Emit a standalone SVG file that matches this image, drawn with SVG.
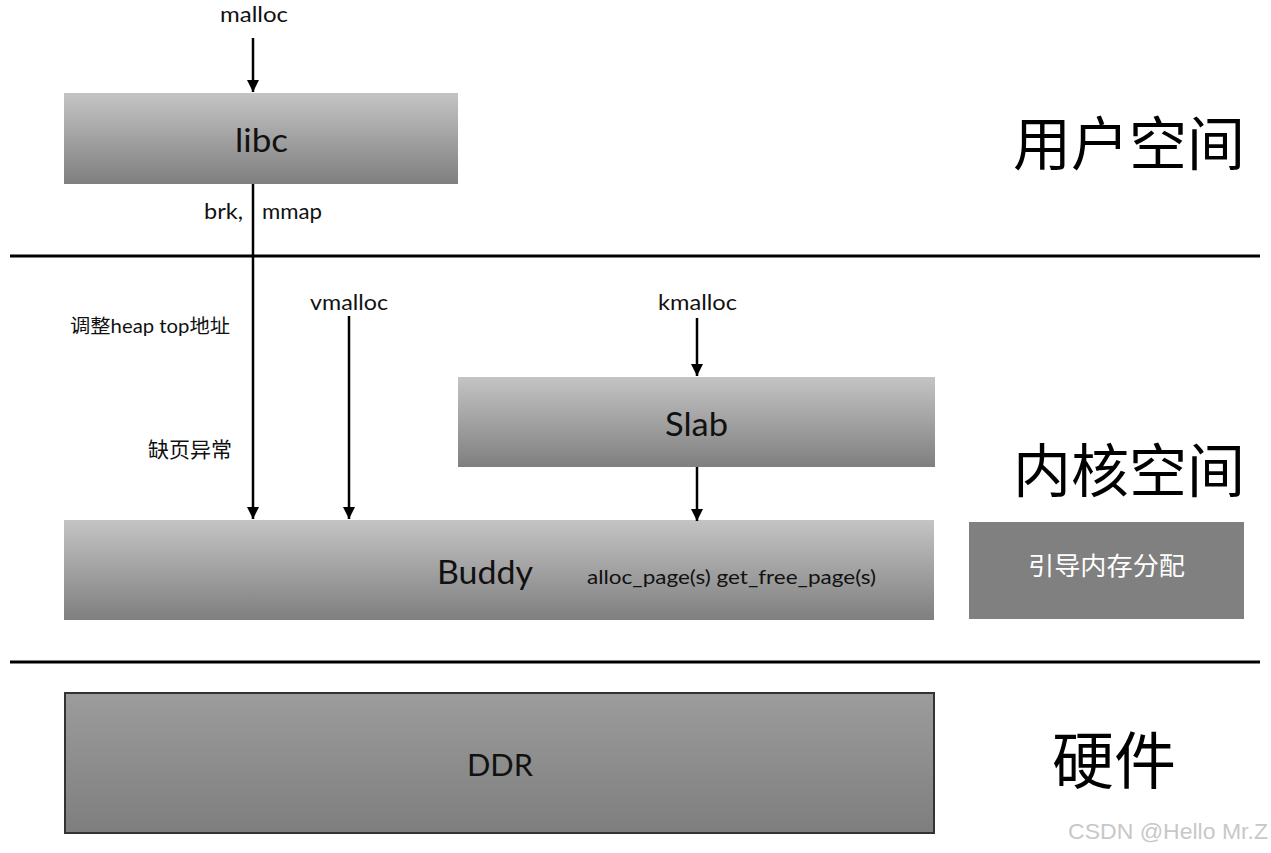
<svg xmlns="http://www.w3.org/2000/svg" width="1271" height="853" viewBox="0 0 1271 853">
<style>
.t{font-family:"Lato","Noto Sans CJK SC",sans-serif;fill:#111}
.cn{font-family:"Noto Sans CJK SC",sans-serif;fill:#111}
.box{stroke:none}
.conn{stroke:#000;stroke-width:2.5;fill:none}
.sep{stroke:#000;stroke-width:3}
</style>
<defs>
<linearGradient id="g1" x1="0" y1="0" x2="0" y2="1">
<stop offset="0" stop-color="#c4c4c4"/>
<stop offset="1" stop-color="#7f7f7f"/>
</linearGradient>
<linearGradient id="g2" x1="0" y1="0" x2="0" y2="1">
<stop offset="0" stop-color="#9c9c9c"/>
<stop offset="1" stop-color="#7e7e7e"/>
</linearGradient>
<marker id="ah" markerWidth="12" markerHeight="12" refX="10" refY="5" orient="auto" markerUnits="userSpaceOnUse" viewBox="0 0 10 10">
<path d="M0,0 L10,5 L0,10 z" fill="#000"/>
</marker>
</defs>
<rect width="1271" height="853" fill="#fff"/>
<g id="separators">
<line class="sep" x1="10" y1="256" x2="1260" y2="256"/>
<line class="sep" x1="10" y1="662" x2="1260" y2="662"/>
</g>
<g id="libc">
<rect class="box" x="64" y="93" width="394" height="91" fill="url(#g1)"/>
<text class="t" x="235" y="152" font-size="33" textLength="53" lengthAdjust="spacingAndGlyphs">libc</text>
</g>
<g id="slab">
<rect class="box" x="458" y="377" width="477" height="90" fill="url(#g1)"/>
<text class="t" x="665" y="436" font-size="33" textLength="63" lengthAdjust="spacingAndGlyphs">Slab</text>
</g>
<g id="buddy">
<rect class="box" x="64" y="520" width="870" height="100" fill="url(#g1)"/>
<text class="t" x="437" y="584" font-size="33" textLength="96" lengthAdjust="spacingAndGlyphs">Buddy</text>
<text class="t" x="587" y="584" font-size="20" textLength="289" lengthAdjust="spacingAndGlyphs">alloc_page(s) get_free_page(s)</text>
</g>
<g id="bootmem">
<rect x="969" y="522" width="275" height="97" fill="#808080"/>
<text class="cn" x="1028" y="575" font-size="25" textLength="157" lengthAdjust="spacingAndGlyphs" style="fill:#fff">引导内存分配</text>
</g>
<g id="ddr">
<rect x="65" y="693" width="869" height="140" fill="url(#g2)" stroke="#333" stroke-width="2"/>
<text class="t" x="467" y="776" font-size="31" textLength="66" lengthAdjust="spacingAndGlyphs">DDR</text>
</g>
<g id="labels">
<text class="t" x="220" y="22" font-size="22" textLength="68" lengthAdjust="spacingAndGlyphs">malloc</text>
<text class="t" x="204" y="219" font-size="21" textLength="39" lengthAdjust="spacingAndGlyphs">brk,</text>
<text class="t" x="262" y="219" font-size="21" textLength="60" lengthAdjust="spacingAndGlyphs">mmap</text>
<text class="cn" x="70" y="333" font-size="19" textLength="160" lengthAdjust="spacingAndGlyphs">调整<tspan class="t" font-family="Lato">heap top</tspan>地址</text>
<text class="t" x="310" y="310" font-size="22" textLength="78" lengthAdjust="spacingAndGlyphs">vmalloc</text>
<text class="t" x="658" y="310" font-size="22" textLength="79" lengthAdjust="spacingAndGlyphs">kmalloc</text>
<text class="cn" x="148" y="457" font-size="21" textLength="84" lengthAdjust="spacingAndGlyphs">缺页异常</text>
<text class="cn" x="1013" y="165" font-size="58" textLength="232" lengthAdjust="spacingAndGlyphs" style="fill:#000">用户空间</text>
<text class="cn" x="1013" y="492" font-size="58" textLength="232" lengthAdjust="spacingAndGlyphs" style="fill:#000">内核空间</text>
<text class="cn" x="1052" y="784" font-size="62" style="fill:#000">硬件</text>
<text x="1068" y="839" font-size="22" font-family="Liberation Sans,sans-serif" fill="#c8c8c8" textLength="200" lengthAdjust="spacingAndGlyphs">CSDN @Hello Mr.Z</text>
</g>
<g id="connectors">
<line class="conn" x1="253" y1="38" x2="253" y2="92" marker-end="url(#ah)"/>
<line class="conn" x1="253" y1="184" x2="253" y2="519" marker-end="url(#ah)"/>
<line class="conn" x1="349" y1="316" x2="349" y2="519" marker-end="url(#ah)"/>
<line class="conn" x1="697" y1="318" x2="697" y2="376" marker-end="url(#ah)"/>
<line class="conn" x1="697" y1="467" x2="697" y2="521" marker-end="url(#ah)"/>
</g>
</svg>
